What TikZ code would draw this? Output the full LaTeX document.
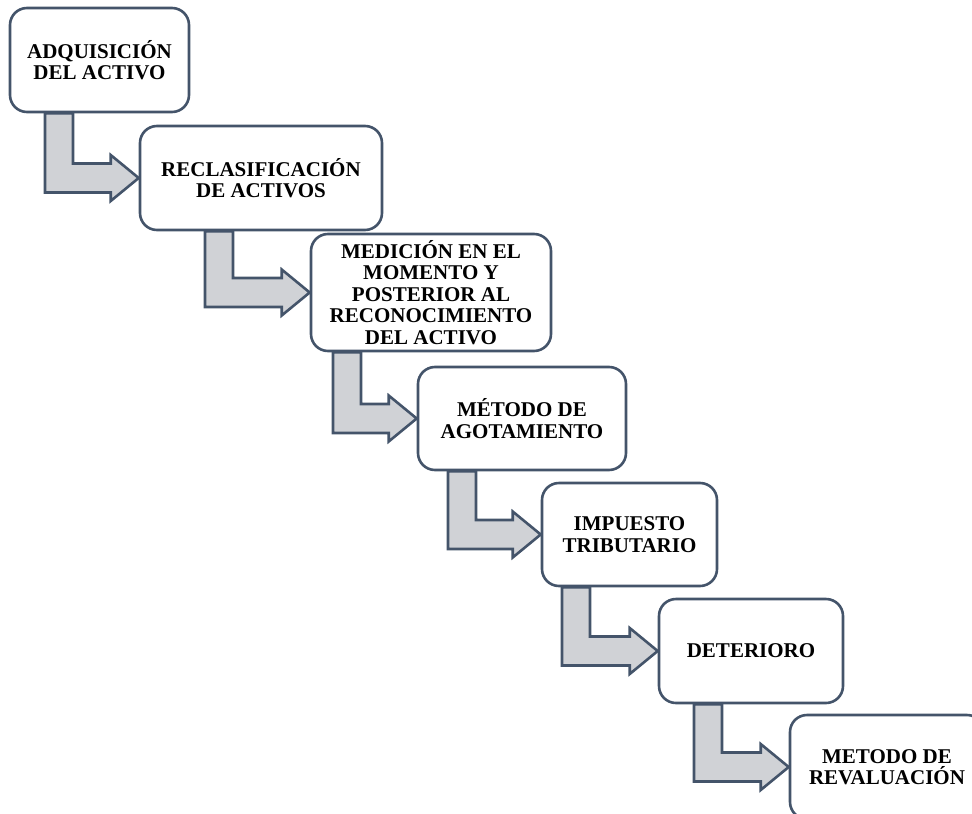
\documentclass[tikz,border=0pt]{standalone}
\usepackage{fontspec}
\setmainfont{Liberation Serif}
\usetikzlibrary{calc}
\definecolor{edgeblue}{HTML}{44546A}
\definecolor{arrowgray}{HTML}{D0D2D6}
\tikzset{
  stepbox/.style={draw=edgeblue, line width=2.6pt, fill=white, rounded corners=17pt,
    align=center, inner sep=0pt, font=\fontsize{21}{21.5}\selectfont\bfseries},
  bent/.style={draw=edgeblue, line width=2.6pt, fill=arrowgray, line join=miter}
}
\newcommand\bentarrow[3]{%
  \draw[bent] let \p1=(#1.south), \p2=(#2.west) in
    (#3pt,\y1) -- (#3pt+28pt,\y1) |- (\x2-28pt,\y2+14.5pt)
    -- (\x2-28pt,\y2+23pt) -- (\p2) -- (\x2-28pt,\y2-23pt)
    -- (\x2-28pt,\y2-14.5pt) -- (#3pt,\y2-14.5pt) -- cycle;}
\begin{document}
\begin{tikzpicture}[x=1pt,y=1pt]
\useasboundingbox (0,0) rectangle (972,-814);
\clip (0,0) rectangle (972,-814);
\node[stepbox, minimum width=179pt, minimum height=104pt] (b1) at (99.5,-60) {ADQUISICIÓN\\DEL ACTIVO};
\node[stepbox, minimum width=242pt, minimum height=104pt] (b2) at (261,-178) {RECLASIFICACIÓN\\DE ACTIVOS};
\node[stepbox, minimum width=240pt, minimum height=117pt] (b3) at (431,-292.5) {MEDICIÓN EN EL\\MOMENTO Y\\POSTERIOR AL\\RECONOCIMIENTO\\DEL ACTIVO};
\node[stepbox, minimum width=208pt, minimum height=103pt] (b4) at (522,-418.5) {MÉTODO DE\\AGOTAMIENTO};
\node[stepbox, minimum width=175pt, minimum height=103pt] (b5) at (629.5,-534.5) {IMPUESTO\\TRIBUTARIO};
\node[stepbox, minimum width=184pt, minimum height=104pt] (b6) at (751,-651) {DETERIORO};
\node[stepbox, minimum width=194pt, minimum height=104pt] (b7) at (887,-767) {METODO DE\\REVALUACIÓN};
\bentarrow{b1}{b2}{45}
\bentarrow{b2}{b3}{205}
\bentarrow{b3}{b4}{333}
\bentarrow{b4}{b5}{448}
\bentarrow{b5}{b6}{562}
\bentarrow{b6}{b7}{694}
\end{tikzpicture}
\end{document}
